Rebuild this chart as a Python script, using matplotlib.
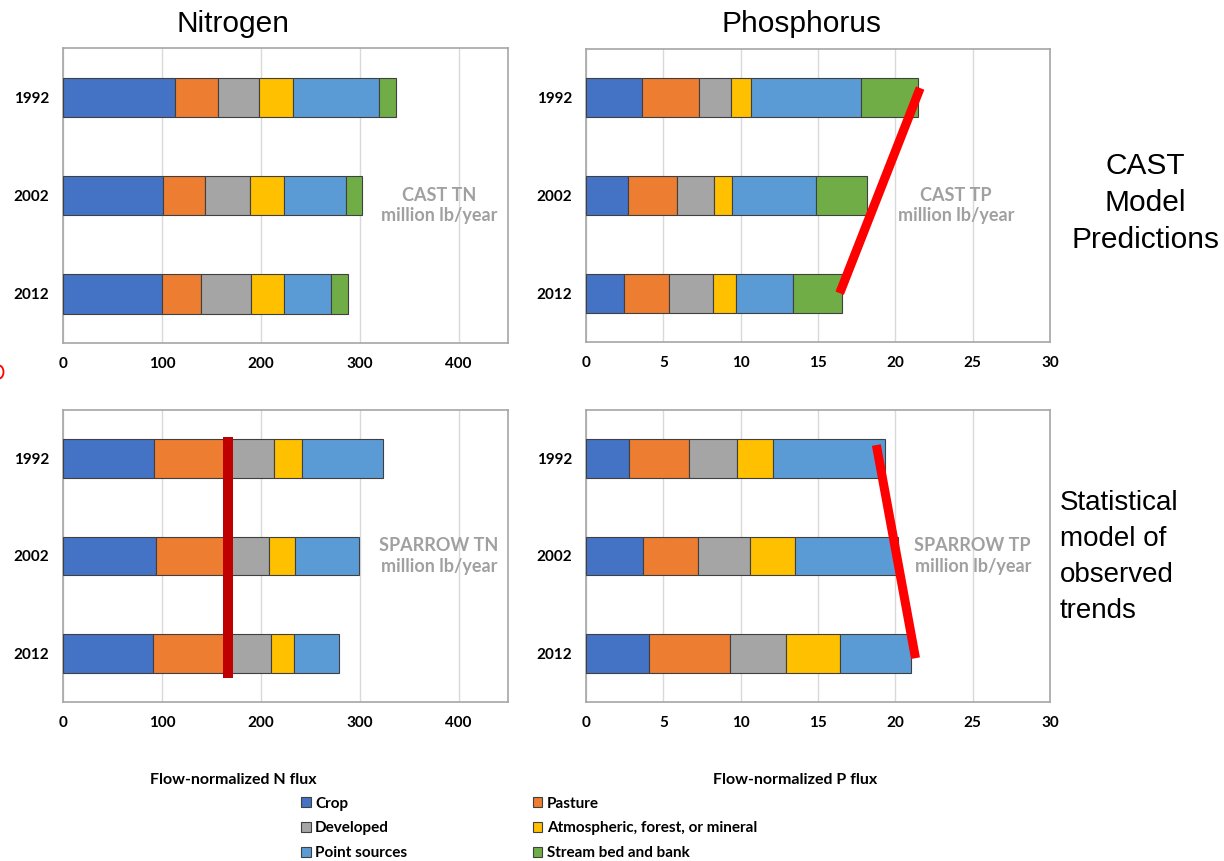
import matplotlib
matplotlib.use("Agg")
from matplotlib import pyplot as plt
from matplotlib.patches import Patch, Ellipse

# ============== DATA ==============

years = ['1992', '2002', '2012']
sources = ['Crop', 'Pasture', 'Developed', 'Atmospheric, forest, or mineral',
           'Point sources', 'Stream bed and bank']
colors = ['#4472C4', '#ED7D31', '#A5A5A5', '#FFC000', '#5B9BD5', '#70AD47']

# one row per year (1992, 2002, 2012), one column per source
cast_tn = [[113, 44, 41, 35, 86, 18],
           [101, 43, 45, 34, 63, 16],
           [100, 39, 51, 33, 48, 17]]
cast_tp = [[3.6, 3.7, 2.05, 1.3, 7.1, 3.7],
           [2.7, 3.15, 2.4, 1.2, 5.4, 3.3],
           [2.45, 2.9, 2.85, 1.5, 3.7, 3.15]]
sparrow_tn = [[92, 76, 45, 29, 82, 0],
              [94, 73, 41, 27, 64, 0],
              [91, 75, 44, 24, 45.5, 0]]
sparrow_tp = [[2.8, 3.85, 3.1, 2.35, 7.2, 0],
              [3.7, 3.55, 3.35, 2.9, 6.7, 0],
              [4.1, 5.2, 3.6, 3.5, 4.6, 0]]

n_ticks = [0, 100, 200, 300, 400]
p_ticks = [0, 5, 10, 15, 20, 25, 30]

# red trend lines drawn over the bars (x in flux, y in year slot)
cast_tp_line_x = [21.6, 16.4]
cast_tp_line_y = [2.1, 0.0]
sparrow_tn_line_x = [166.7, 166.7]
sparrow_tn_line_y = [2.22, -0.25]
sparrow_tp_line_x = [18.77, 21.3]
sparrow_tp_line_y = [2.14, -0.05]

BOLD = ['Lato', 'DejaVu Sans']
ARIAL = ['Liberation Sans', 'DejaVu Sans']


# ============== GRAPHIQUES ==============

def stacked_panel(ax, data, xmax, ticks, label):
    """Barres empilees horizontales, 1992 en haut"""
    ypos = [2, 1, 0]
    for row, y in zip(data, ypos):
        left = 0
        for value, color in zip(row, colors):
            if value > 0:
                ax.barh(y, value, left=left, height=0.4, color=color,
                        edgecolor='#404040', linewidth=0.8, zorder=3)
            left += value
    ax.set_xlim(0, xmax)
    ax.set_ylim(-0.5, 2.5)
    ax.set_xticks(ticks)
    ax.set_yticks(ypos)
    ax.set_yticklabels(years)
    ax.tick_params(length=0, pad=10, labelsize=11)
    for t in ax.get_xticklabels() + ax.get_yticklabels():
        t.set_fontfamily(BOLD)
        t.set_fontweight('bold')
    ax.xaxis.grid(True, color='#D9D9D9', linewidth=1, zorder=0)
    ax.set_axisbelow(True)
    for s in ax.spines.values():
        s.set_color('#A6A6A6')
        s.set_linewidth(1.2)
    ax.text(label[0], label[1], label[2], ha='center', va='center',
            fontsize=13, fontweight='bold', color='#A0A0A0',
            family=BOLD, linespacing=1.25, zorder=4)


fig = plt.figure(figsize=(12.24, 8.61), dpi=100)

ax_tl = fig.add_axes([0.0515, 0.6016, 0.3636, 0.3426])
ax_tr = fig.add_axes([0.4788, 0.6028, 0.3791, 0.3403])
ax_bl = fig.add_axes([0.0515, 0.1847, 0.3636, 0.3391])
ax_br = fig.add_axes([0.4788, 0.1847, 0.3791, 0.3391])

stacked_panel(ax_tl, cast_tn, 450, n_ticks, (380, 0.9, 'CAST TN\nmillion lb/year'))
stacked_panel(ax_tr, cast_tp, 30, p_ticks, (23.9, 0.9, 'CAST TP\nmillion lb/year'))
stacked_panel(ax_bl, sparrow_tn, 450, n_ticks, (380, 1.0, 'SPARROW TN\nmillion lb/year'))
stacked_panel(ax_br, sparrow_tp, 30, p_ticks, (25.0, 1.0, 'SPARROW TP\nmillion lb/year'))

ax_tr.plot(cast_tp_line_x, cast_tp_line_y, color='#FF0000', linewidth=6.5,
           solid_capstyle='butt', zorder=5, clip_on=False)
ax_bl.plot(sparrow_tn_line_x, sparrow_tn_line_y, color='#C00000', linewidth=7.2,
           solid_capstyle='butt', zorder=5, clip_on=False)
ax_br.plot(sparrow_tp_line_x, sparrow_tp_line_y, color='#FF0000', linewidth=6.5,
           solid_capstyle='butt', zorder=5, clip_on=False)

# titres et annotations
fig.text(233 / 1224, 1 - 24 / 861, 'Nitrogen', ha='center', va='center',
         fontsize=21.5, family=ARIAL)
fig.text(801 / 1224, 1 - 24 / 861, 'Phosphorus', ha='center', va='center',
         fontsize=21.5, family=ARIAL)
fig.text(1145 / 1224, 1 - 203 / 861, 'CAST\nModel\nPredictions', ha='center',
         va='center', fontsize=21.5, family=ARIAL, linespacing=1.39)
fig.text(1060 / 1224, 1 - 557 / 861, 'Statistical\nmodel of\nobserved\ntrends',
         ha='left', va='center', fontsize=20, family=ARIAL, linespacing=1.5)

fig.text(233 / 1224, 1 - 780 / 861, 'Flow-normalized N flux', ha='center',
         va='center', fontsize=11.5, fontweight='bold', family=BOLD)
fig.text(795 / 1224, 1 - 780 / 861, 'Flow-normalized P flux', ha='center',
         va='center', fontsize=11.5, fontweight='bold', family=BOLD)

# petite marque rouge au bord gauche (arc coupe par le bord)
fig.add_artist(Ellipse((-1 / 1224, 1 - 372 / 861), 9 / 1224, 13 / 861,
                       transform=fig.transFigure, fill=False,
                       edgecolor='#FF0000', linewidth=1.3))

# legende : colonne de gauche puis colonne de droite
order = [0, 2, 4, 1, 3, 5]
handles = [Patch(facecolor=colors[i], edgecolor='#404040', linewidth=0.8)
           for i in order]
labels = [sources[i] for i in order]
leg = fig.legend(handles, labels, ncol=2, loc='upper left',
                 bbox_to_anchor=(293 / 1224, 1 - 789 / 861), frameon=False,
                 borderpad=0, handlelength=0.65, handleheight=0.65,
                 handletextpad=0.3, columnspacing=8.2, labelspacing=0.7,
                 prop={'family': BOLD, 'weight': 'bold', 'size': 11})

fig.savefig('out.png', dpi=100)
